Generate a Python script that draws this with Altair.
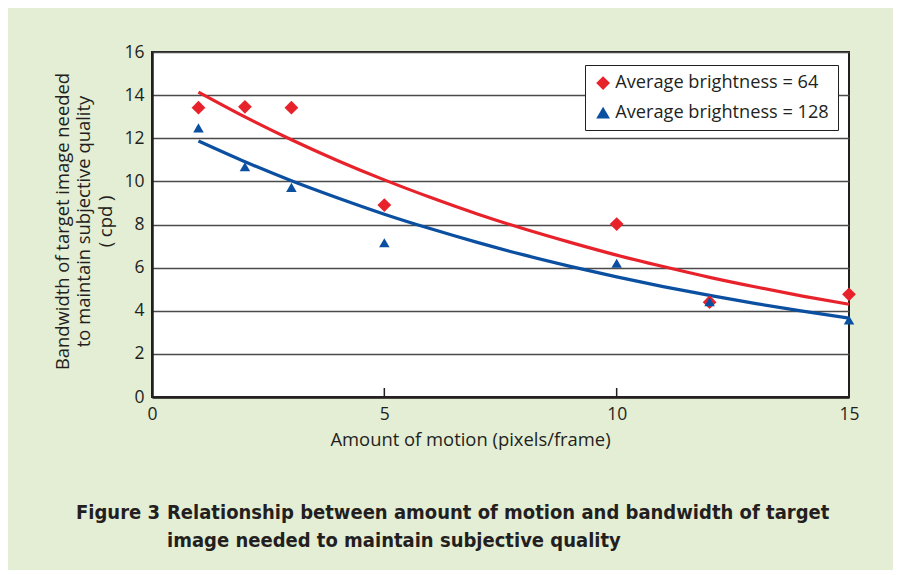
import altair as alt
import pandas as pd

# ---- data ----
motion = [1, 2, 3, 5, 10, 12, 15]
bw_64 = [13.42, 13.46, 13.42, 8.9, 8.02, 4.4, 4.76]
bw_128 = [12.48, 10.68, 9.72, 7.15, 6.2, 4.42, 3.57]

curve_x = [1, 2, 3, 4, 5, 6, 7, 8, 9, 10, 11, 12, 13, 14, 15]
curve_64 = [14.14, 12.99, 11.93, 10.96, 10.07, 9.25, 8.49, 7.80, 7.17, 6.58, 6.05, 5.55, 5.10, 4.68, 4.30]
curve_128 = [11.87, 10.91, 10.03, 9.23, 8.48, 7.80, 7.17, 6.59, 6.06, 5.57, 5.12, 4.71, 4.33, 3.98, 3.66]

series = ["Average brightness = 64", "Average brightness = 128"]
x_ticks = [0, 5, 10, 15]
y_ticks = [0, 2, 4, 6, 8, 10, 12, 14, 16]
inner_x_ticks = [5, 10]

x_title = "Amount of motion (pixels/frame)"
y_title = ["Bandwidth of target image needed", "to maintain subjective quality", "( cpd )"]
caption_label = "Figure 3"
caption_lines = ["Relationship between amount of motion and bandwidth of target",
                 "image needed to maintain subjective quality"]

RED = "#e8222b"
BLUE = "#0b4fa0"
INK = "#231f20"
FONT = "Open Sans"

pts64 = pd.DataFrame({"motion": motion, "bw": bw_64, "series": series[0]})
pts128 = pd.DataFrame({"motion": motion, "bw": bw_128, "series": series[1]})
crv64 = pd.DataFrame({"motion": curve_x, "bw": curve_64})
crv128 = pd.DataFrame({"motion": curve_x, "bw": curve_128})

xs = alt.Scale(domain=[0, 15], nice=False, zero=False)
ys = alt.Scale(domain=[0, 16], nice=False)
color_scale = alt.Scale(domain=series, range=[RED, BLUE])
shape_scale = alt.Scale(domain=series, range=["diamond", "triangle-up"])

x_axis = alt.Axis(values=x_ticks, grid=False, ticks=False, labelFontSize=17.5, labelPadding=8,
                  labelFlush=False, labelColor=INK, domainColor=INK, domainWidth=2.5,
                  title=x_title, titleFontSize=18.4, titleFontWeight="normal", titleColor=INK,
                  titleX=318, titleY=48, titleBaseline="alphabetic",
                  labelFont=FONT, titleFont=FONT)
y_axis = alt.Axis(values=y_ticks, grid=True, gridColor="#4a4a4a", gridWidth=1.5, ticks=False,
                  labelFontSize=17.5, labelPadding=8, labelColor=INK, domainColor=INK,
                  domainWidth=2.5, labelFlush=False,
                  title=y_title, titleFontSize=18.4, titleFontWeight="normal", titleColor=INK,
                  titleLineHeight=21.5, titleX=-90, titleY=169, titleBaseline="middle",
                  titleAngle=270, labelFont=FONT, titleFont=FONT)


def line_layer(df, color, axes=False):
    enc_x = alt.X("motion:Q", scale=xs, axis=x_axis) if axes else alt.X("motion:Q", scale=xs)
    enc_y = alt.Y("bw:Q", scale=ys, axis=y_axis) if axes else alt.Y("bw:Q", scale=ys)
    return alt.Chart(df).mark_line(strokeWidth=3.2, interpolate="monotone", color=color).encode(
        x=enc_x, y=enc_y)


line64 = line_layer(crv64, RED, axes=True)
line128 = line_layer(crv128, BLUE)

legend = alt.Legend(title=None, orient="none", legendX=433, legendY=13,
                    fillColor="white", strokeColor=INK, padding=9,
                    labelFontSize=18.2, labelColor=INK, labelFont=FONT, labelOffset=3,
                    symbolSize=190, rowPadding=10.5, labelLimit=400)


def point_layer(df, size):
    return alt.Chart(df).mark_point(filled=True, opacity=1, size=size).encode(
        x=alt.X("motion:Q", scale=xs),
        y=alt.Y("bw:Q", scale=ys),
        color=alt.Color("series:N", scale=color_scale, legend=legend),
        shape=alt.Shape("series:N", scale=shape_scale, legend=legend),
    )


points64 = point_layer(pts64, 190)
points128 = point_layer(pts128, 110)

ticks = alt.Chart(alt.Data(values=[{"t": v} for v in inner_x_ticks])).mark_rule(
    color=INK, strokeWidth=1.5).encode(
    x=alt.X("t:Q", scale=xs),
    y=alt.value(345),
    y2=alt.value(336),
)

cap_font = "Liberation Sans Narrow, DejaVu Sans Condensed, sans-serif"
cap0 = alt.Chart(alt.Data(values=[{"t": caption_label}])).mark_text(
    align="left", baseline="alphabetic", fontSize=20, fontWeight="bold", font=cap_font, color=INK
).encode(x=alt.value(-76), y=alt.value(467), text="t:N")
cap1 = alt.Chart(alt.Data(values=[{"t": caption_lines[0]}])).mark_text(
    align="left", baseline="alphabetic", fontSize=20, fontWeight="bold", font=cap_font, color=INK
).encode(x=alt.value(15), y=alt.value(467), text="t:N")
cap2 = alt.Chart(alt.Data(values=[{"t": caption_lines[1]}])).mark_text(
    align="left", baseline="alphabetic", fontSize=20, fontWeight="bold", font=cap_font, color=INK
).encode(x=alt.value(15), y=alt.value(495), text="t:N")

chart = alt.layer(line64, line128, ticks, points64, points128, cap0, cap1, cap2).properties(
    width=697, height=345,
    padding={"left": 144, "top": 44, "right": 44, "bottom": 173},
    autosize=alt.AutoSizeParams(type="none"),
    background="#e3eed5",
).configure_view(
    fill="white", stroke=INK, strokeWidth=2
)

chart.save("out.html", embed_options={"renderer": "svg", "actions": False})
